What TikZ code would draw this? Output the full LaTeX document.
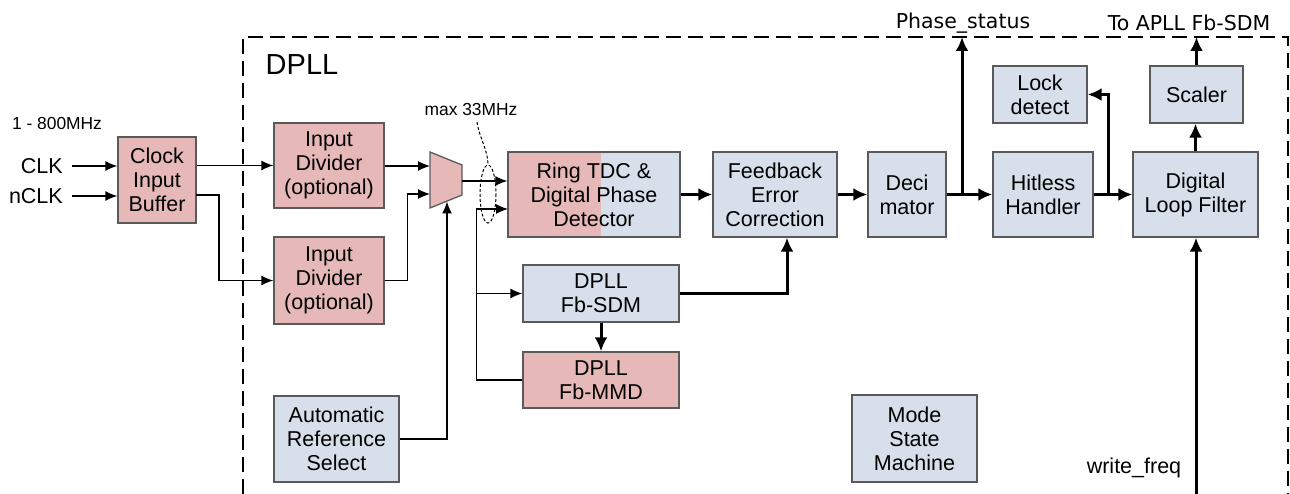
\documentclass[tikz,border=0pt]{standalone}
\usepackage{fontspec}
\setmainfont{Liberation Sans}
\newfontfamily\labfont{DejaVu Sans}
\usetikzlibrary{arrows.meta}
\definecolor{pinkc}{HTML}{E6B9B8}
\definecolor{bluec}{HTML}{D6DFEA}
\definecolor{edgec}{HTML}{5A5A5A}
\begin{document}
\begin{tikzpicture}[x=1pt,y=-1pt,
  blk/.style={draw=edgec, line width=1.3pt, align=center, inner sep=0pt,
    font=\fontsize{21.5}{24}\selectfont},
  pinkbox/.style={blk, fill=pinkc},
  bluebox/.style={blk, fill=bluec},
  txt/.style={inner sep=0pt, font=\fontsize{21.5}{24}\selectfont},
  smalltxt/.style={inner sep=0pt, font=\fontsize{17.4}{20}\selectfont},
  labtxt/.style={inner sep=0pt, font=\labfont\fontsize{20.5}{24}\selectfont},
  wire/.style={line width=1.3pt, -{Latex[length=12pt,width=10pt]}},
  tarr/.style={line width=3pt, -{Latex[length=14pt,width=13pt]}}
]
\useasboundingbox (0,0) rectangle (1290,494);

% frame
\draw[line width=2pt, dash pattern=on 15pt off 7pt] (243,494) -- (243,37) -- (1288,37) -- (1288,494);
\node[inner sep=0pt, font=\fontsize{29}{34}\selectfont] (dpll) at (302,65) {DPLL};

% boxes
\node[pinkbox, minimum width=78pt, minimum height=86pt] (cib) at (157,180) {Clock\\Input\\Buffer};
\node[pinkbox, minimum width=110pt, minimum height=85pt] (div1) at (329,165.5) {Input\\Divider\\(optional)};
\node[pinkbox, minimum width=110pt, minimum height=87pt] (div2) at (329,280.5) {Input\\Divider\\(optional)};
\node[bluebox, minimum width=125pt, minimum height=86pt] (ars) at (336.5,439) {Automatic\\Reference\\Select};
\node[bluebox, minimum width=172pt, minimum height=85pt,
  path picture={\fill[pinkc] (path picture bounding box.south west) rectangle ([xshift=93pt]path picture bounding box.north west);}]
  (tdc) at (594,194.5) {Ring TDC \&\\Digital Phase\\Detector};
\node[bluebox, minimum width=156pt, minimum height=57pt] (sdm) at (601,293.5) {DPLL\\Fb-SDM};
\node[pinkbox, minimum width=156pt, minimum height=56pt] (mmd) at (601,380) {DPLL\\Fb-MMD};
\node[bluebox, minimum width=124pt, minimum height=85pt] (fec) at (775,194.5) {Feedback\\Error\\Correction};
\node[bluebox, minimum width=78pt, minimum height=85pt] (dec) at (907,194.5) {Deci\\mator};
\node[bluebox, minimum width=100pt, minimum height=85pt] (hh) at (1043,194.5) {Hitless\\Handler};
\node[bluebox, minimum width=94pt, minimum height=57pt] (lock) at (1040,94.5) {Lock\\detect};
\node[bluebox, minimum width=125pt, minimum height=85pt] (dlf) at (1195.5,194.5) {Digital\\Loop Filter};
\node[bluebox, minimum width=93pt, minimum height=57pt] (scaler) at (1196.5,94.5) {Scaler};
\node[bluebox, minimum width=125pt, minimum height=87pt] (msm) at (914.5,438.5) {Mode\\State\\Machine};

% mux
\coordinate (m1) at (430,152);
\coordinate (m2) at (462,165);
\coordinate (m3) at (462,195);
\coordinate (m4) at (430,208);
\draw[draw=edgec, fill=pinkc, line width=1.3pt] (m1) -- (m2) -- (m3) -- (m4) -- cycle;
\coordinate (mi1) at (430,166);
\coordinate (mi2) at (430,194);
\coordinate (mo) at (462,181);
\coordinate (mb) at (447,201.5);

% labels
\node[txt, anchor=east] (clk) at (63,166) {CLK};
\node[txt, anchor=east] (nclk) at (63,196) {nCLK};
\node[smalltxt] (freq) at (57,124) {1 - 800MHz};
\node[smalltxt] (maxl) at (471,110) {max 33MHz};
\node[labtxt] (phs) at (963,23) {Phase\_status};
\node[labtxt] (apll) at (1189,23) {To APLL Fb-SDM};
\node[txt] (wf) at (1134,468) {write\_freq};

% thin wires
\draw[wire] ([xshift=9pt]clk.east) -- (clk.east -| cib.west);
\draw[wire] ([xshift=9pt]nclk.east) -- (nclk.east -| cib.west);
\draw[wire] (cib.east |- div1.west) -- (div1.west);
\coordinate (c2) at (196,195);
\draw[wire] (c2) -- (219,195) |- (div2.west);
\draw[wire] (div1.east |- mi1) -- (mi1);
\draw[wire] (div2.east) -- ++(23,0) |- (mi2);
\draw[wire] (ars.east) -| (mb);
\draw[wire] (mo) -- (mo -| tdc.west);
\coordinate (ti2) at (508,209);
\draw[wire] (mmd.west) -- ++(-46,0) |- (ti2);
\coordinate (jn) at (477,293.5);
\draw[wire] (jn) -- (sdm.west);

% ellipse and leader
\draw[line width=1pt, dash pattern=on 3pt off 2pt] (488,194) ellipse [x radius=8, y radius=29];
\draw[line width=1pt, dash pattern=on 3pt off 2pt] (477,122) .. controls (480,140) and (488,150) .. (488,165);

% thick arrows
\draw[tarr] (tdc.east) -- (fec.west);
\draw[tarr] (fec.east) -- (dec.west);
\draw[tarr] (dec.east) -- (hh.west);
\coordinate (psb) at (962,194.5);
\coordinate (pst) at (962,37);
\draw[tarr] (psb) -- (pst);
\draw[tarr] (hh.east) -- (dlf.west);
\coordinate (lkb) at (1108,194.5);
\draw[tarr] (lkb) |- (lock.east);
\draw[tarr] (sdm.east) -| ([xshift=12pt]fec.south);
\draw[tarr] (sdm.south) -- (mmd.north);
\draw[tarr] (dlf.north) -- (dlf.north |- scaler.south);
\coordinate (apt) at (1196.5,37);
\draw[tarr] (scaler.north) -- (apt);
\coordinate (wfb) at (1196,494);
\draw[tarr] (wfb) -- (wfb |- dlf.south);
\end{tikzpicture}
\end{document}
